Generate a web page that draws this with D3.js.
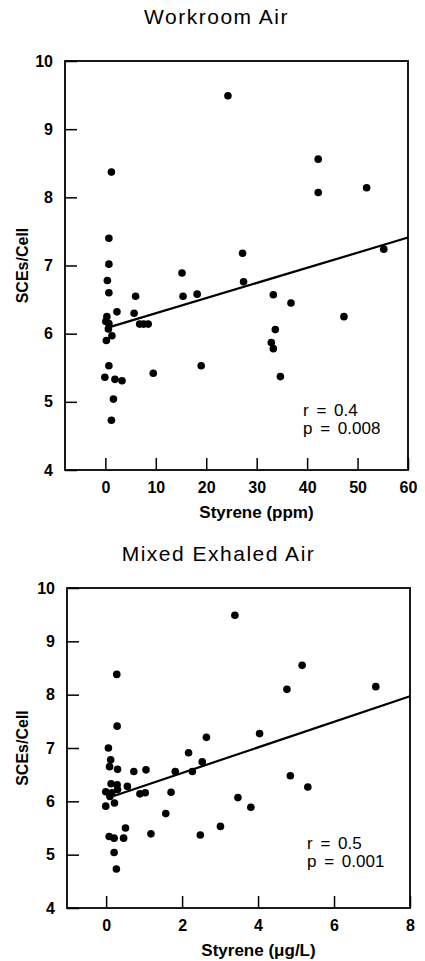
<!DOCTYPE html>
<meta charset="utf-8">
<script src="https://d3js.org/d3.v7.min.js"></script>
<style>
    body { margin: 0; background: #fff; }
    svg { display: block; font-family: "Liberation Sans", Arial, sans-serif; }
    .tick text { font-size: 16px; font-weight: bold; fill: #000; }
    .tick line { stroke: #000; stroke-width: 1.5px; }
    .domain { display: none; }
</style>
<div id="chart"></div>
<script>
    // Workroom air panel
    var workX = [1.2, 0.7, 0.7, 0.4, 0.7, 6.0, 15.2, 15.4, 2.3, 5.7, 0.3, 0.1, 0.7, 0.6, 1.3, 0.2,
        0.7, -0.1, 1.9, 3.3, 1.6, 1.2, 6.8, 7.6, 8.5, 9.5, 19.0, 18.2, 24.3, 27.2, 27.4, 33.3,
        33.7, 32.9, 33.3, 34.7, 36.8, 42.2, 42.2, 47.3, 51.8, 55.2];
    var workY = [8.37, 7.40, 7.02, 6.78, 6.60, 6.55, 6.89, 6.55, 6.32, 6.30, 6.25, 6.18, 6.15, 6.07, 5.97, 5.90,
        5.53, 5.36, 5.33, 5.31, 5.04, 4.73, 6.14, 6.14, 6.14, 5.42, 5.53, 6.58, 9.49, 7.18, 6.76, 6.57,
        6.06, 5.87, 5.78, 5.37, 6.45, 8.56, 8.07, 6.25, 8.14, 7.24];
    var workFitX = [1, 60];
    var workFitY = [6.10, 7.41];
    var workTicksX = [0, 10, 20, 30, 40, 50, 60];

    // Mixed exhaled air panel
    var exhX = [0.28, 0.29, 0.06, 0.12, 0.09, 0.30, 0.73, 1.05, 1.82, 0.13, 0.29, 0.56, -0.01, 0.15, 0.30,
        0.89, 1.03, 1.71, 0.10, 0.22, -0.01, 1.57, 0.51, 0.08, 0.21, 0.46, 1.18, 0.21, 0.27,
        3.39, 5.16, 4.76, 7.10, 4.04, 2.64, 2.17, 2.53, 2.27, 4.85, 5.31, 3.47, 3.81, 2.48, 3.01];
    var exhY = [8.38, 7.41, 7.00, 6.78, 6.65, 6.60, 6.56, 6.59, 6.56, 6.33, 6.31, 6.28, 6.18, 6.16, 6.22,
        6.14, 6.16, 6.17, 6.09, 5.97, 5.91, 5.77, 5.50, 5.34, 5.31, 5.31, 5.39, 5.04, 4.73,
        9.49, 8.55, 8.10, 8.15, 7.27, 7.20, 6.91, 6.74, 6.56, 6.48, 6.27, 6.07, 5.89, 5.37, 5.53];
    var exhFitX = [0.2, 8];
    var exhFitY = [6.10, 7.97];
    var exhTicksX = [0, 2, 4, 6, 8];

    var ticksY = [4, 5, 6, 7, 8, 9, 10];

    var svg = d3.select("#chart")
        .append("svg")
        .attr("width", 425)
        .attr("height", 961);

    function drawPanel(o) {
        var x = d3.scaleLinear().domain(o.xDomain).range([o.left, o.right]);
        var y = d3.scaleLinear().domain([4, 10]).range([o.bottom, o.top]);
        var g = svg.append("g");

        // title
        g.append("text")
            .attr("x", (o.left + o.right) / 2 - 20)
            .attr("y", o.titleY)
            .attr("text-anchor", "middle")
            .style("font-size", "21px")
            .style("letter-spacing", "1.5px")
            .text(o.title);

        // axes, ticks pointing inward
        g.append("g")
            .attr("transform", "translate(" + o.left + ",0)")
            .call(d3.axisLeft(y).tickValues(ticksY).tickSize(-12).tickPadding(12).tickFormat(d3.format("d")));
        g.append("g")
            .attr("transform", "translate(0," + o.bottom + ")")
            .call(d3.axisBottom(x).tickValues(o.ticksX).tickSize(-12).tickPadding(12).tickFormat(d3.format("d")));

        // frame
        g.append("rect")
            .attr("x", o.left)
            .attr("y", o.top)
            .attr("width", o.right - o.left)
            .attr("height", o.bottom - o.top)
            .attr("fill", "none")
            .attr("stroke", "#000")
            .attr("stroke-width", 1.8);

        // axis labels
        g.append("text")
            .attr("x", (o.left + o.right) / 2 + 20)
            .attr("y", o.bottom + 48)
            .attr("text-anchor", "middle")
            .style("font-size", "17px")
            .style("font-weight", "bold")
            .text(o.xLabel);
        g.append("text")
            .attr("transform", "translate(" + 28 + "," + ((o.top + o.bottom) / 2) + ")rotate(-90)")
            .attr("text-anchor", "middle")
            .style("font-size", "16px")
            .style("font-weight", "bold")
            .text("SCEs/Cell");

        // regression line
        g.append("line")
            .attr("x1", x(o.fitX[0]))
            .attr("y1", y(o.fitY[0]))
            .attr("x2", x(o.fitX[1]))
            .attr("y2", y(o.fitY[1]))
            .attr("stroke", "#000")
            .attr("stroke-width", 2.2);

        // points
        g.selectAll("circle")
            .data(o.xs)
            .enter()
            .append("circle")
            .attr("cx", function (d) { return x(d); })
            .attr("cy", function (d, i) { return y(o.ys[i]); })
            .attr("r", 3.8)
            .attr("fill", "#000");

        // stats
        var st = g.append("text")
            .style("font-size", "17px")
            .style("word-spacing", "3px");
        st.append("tspan").attr("x", o.statX).attr("y", o.statY).text(o.stats[0]);
        st.append("tspan").attr("x", o.statX).attr("y", o.statY + 18).text(o.stats[1]);
    }

    drawPanel({
        title: "Workroom Air", titleY: 24,
        left: 65, right: 408, top: 61, bottom: 470,
        xDomain: [-8, 60], ticksX: workTicksX,
        xs: workX, ys: workY, fitX: workFitX, fitY: workFitY,
        xLabel: "Styrene (ppm)",
        stats: ["r = 0.4", "p = 0.008"], statX: 303, statY: 416
    });

    drawPanel({
        title: "Mixed Exhaled Air", titleY: 561,
        left: 67, right: 410, top: 588, bottom: 908,
        xDomain: [-1.03, 8], ticksX: exhTicksX,
        xs: exhX, ys: exhY, fitX: exhFitX, fitY: exhFitY,
        xLabel: "Styrene (\u03bcg/L)",
        stats: ["r = 0.5", "p = 0.001"], statX: 307, statY: 849
    });
</script>
